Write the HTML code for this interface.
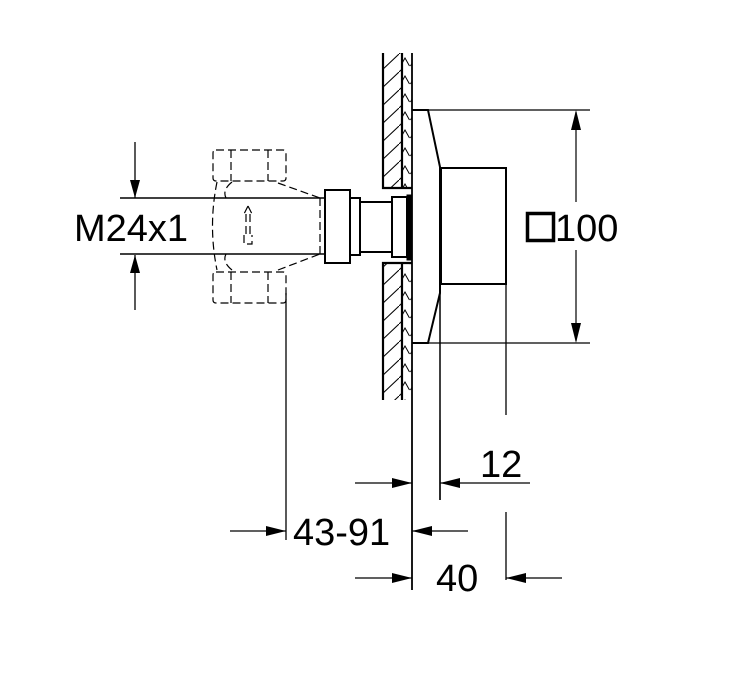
<!DOCTYPE html>
<html><head><style>body{margin:0;background:#fff}svg{display:block}</style></head><body>
<svg width="733" height="674" viewBox="0 0 733 674" xmlns="http://www.w3.org/2000/svg" font-family="Liberation Sans, sans-serif">
<defs>
<pattern id="h" width="19" height="18" patternUnits="userSpaceOnUse">
<path d="M0 18 L19 0" stroke="#000" stroke-width="1"/>
</pattern>
<pattern id="c" width="10" height="18" patternUnits="userSpaceOnUse">
<path d="M0.5 12 L5 4 L9.5 12" stroke="#000" stroke-width="1" fill="none"/>
</pattern>
</defs>
<g stroke="#000" fill="none">
<rect x="383" y="53" width="19" height="135" fill="url(#h)" stroke="none"/>
<rect x="383" y="263" width="19" height="137" fill="url(#h)" stroke="none"/>
<rect x="402" y="53" width="10" height="135" fill="url(#c)" stroke="none"/>
<rect x="402" y="263" width="10" height="137" fill="url(#c)" stroke="none"/>
<path d="M383 53 V188 H412 M402 53 V188 M383 400 V263 H412 M402 263 V400" stroke-width="2.2"/>
<path d="M412 53 V590" stroke-width="1.8"/>
<path d="M412 110 H428 L440 167 V293 L428 343 H412" stroke-width="2"/>
<path d="M440 167 V500" stroke-width="1.5"/>
<rect x="441" y="168" width="65" height="116" stroke-width="2"/>
<path d="M506 284 V415" stroke-width="1.3"/>
<path d="M428 110 H590 M428 343 H590" stroke-width="1.3"/>
<path d="M576 112 V202 M576 250 V341" stroke-width="1.2"/>
<rect x="325" y="190" width="25" height="73" stroke-width="2"/>
<rect x="350" y="198" width="10" height="57" stroke-width="2"/>
<rect x="360" y="202" width="32" height="50" stroke-width="2"/>
<rect x="392" y="197" width="15" height="60" stroke-width="2"/>
<rect x="407" y="195" width="5" height="65" fill="#000" stroke-width="1"/>
<path d="M120 198 H325 M120 254 H325" stroke-width="1.5"/>
<path d="M135 142 V198 M135 255 V310" stroke-width="1.3"/>
<g stroke-dasharray="8,4" stroke-width="1.2">
<path d="M216 150 H283 Q286 150 286 153 V178 Q286 181 283 181 H216 Q213 181 213 178 V153 Q213 150 216 150 Z M231 150 V181 M268 150 V181"/>
<path d="M216 272 H283 Q286 272 286 275 V300 Q286 303 283 303 H216 Q213 303 213 300 V275 Q213 272 216 272 Z M231 272 V303 M268 272 V303"/>
<path d="M217 182 Q208 226 217 270 M232 182 Q222 190 226 198 M232 270 Q222 262 226 254 M278 183 L320 198 M278 270 L320 254 M320 198 V254"/>
<path d="M248 206 L244 214 M248 206 L252 214 M246 214 V235 M250 214 V235 M244 235 L244 244 H252 V235"/>
</g>
<path d="M286 293 V540" stroke-width="1.3"/>
<path d="M355 483 H412 M440 483 H530 M230 531 H286 M412 531 H468 M355 578 H412 M506 578 H562 M506 512 V580 M440 420 V500" stroke-width="1.3"/>
</g>
<g fill="#000">
<path d="M135 198 L130 180 L140 180 Z M135 255 L130 273 L140 273 Z"/>
<path d="M576 110 L571 130 L581 130 Z M576 343 L571 323 L581 323 Z"/>
<path d="M412 483 L392 478 L392 488 Z M440 483 L460 478 L460 488 Z"/>
<path d="M286 531 L266 526 L266 536 Z M412 531 L432 526 L432 536 Z"/>
<path d="M412 578 L392 573 L392 583 Z M506 578 L526 573 L526 583 Z"/>
</g>
<rect x="527.5" y="213.5" width="26" height="27" fill="none" stroke="#000" stroke-width="3.5"/>
<g font-size="38" fill="#000">
<text x="74" y="241">M24x1</text>
<text x="555" y="241">100</text>
<text x="480" y="477">12</text>
<text x="293" y="545">43-91</text>
<text x="436" y="591">40</text>
</g>
</svg>
</body></html>
